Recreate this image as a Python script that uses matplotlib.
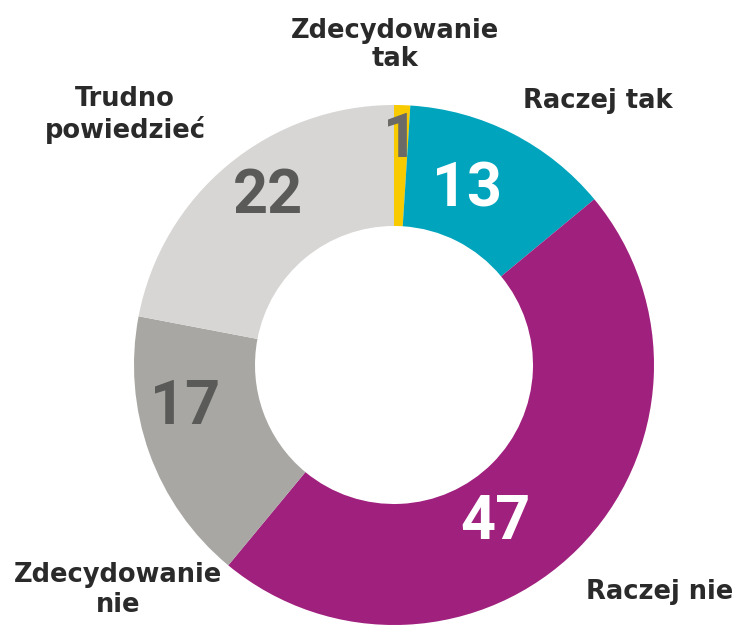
import matplotlib
matplotlib.use('Agg')
from matplotlib import pyplot as plt

categories = ['Zdecydowanie\ntak', 'Raczej tak', 'Raczej nie', 'Zdecydowanie\nnie', 'Trudno\npowiedzieć']
values = [1, 13, 47, 17, 22]
colors = ['#F7CB00', '#00A5BD', '#A0207E', '#A8A7A3', '#D7D6D4']
value_colors = ['#6b6a66', 'white', 'white', '#5a5a58', '#5a5a58']

# layout: text anchors in pixels (x from left, y from top)
cat_pos = [(395, 45), (598, 101), (660, 592), (118, 590), (125, 115)]
val_pos = [(400, 140), (467, 190), (495, 522), (185, 407), (268, 196)]

W, H = 743, 627
cx, cy, r = 394, 365, 260

plt.rcParams['font.family'] = ['Roboto', 'DejaVu Sans']
fig = plt.figure(figsize=(W / 100, H / 100), dpi=100)
ax = fig.add_axes([0, 0, 1, 1])
ax.pie(values, colors=colors, startangle=90, counterclock=False,
       radius=1, wedgeprops=dict(width=121 / r, linewidth=0))
ax.set_xlim(-cx / r, (W - cx) / r)
ax.set_ylim(-(H - cy) / r, cy / r)
ax.set_aspect('equal')
ax.axis('off')

for lab, (x, y) in zip(categories, cat_pos):
    fig.text(x / W, 1 - y / H, lab, ha='center', va='center', fontsize=18.5,
             fontweight='bold', color='#2a2a2a', linespacing=1.15,
             family=['DejaVu Sans'])

for v, c, (x, y) in zip(values, value_colors, val_pos):
    fig.text(x / W, 1 - y / H, str(v), ha='center', va='center', fontsize=44,
             fontweight='bold', color=c)

fig.savefig('out.png', dpi=100)
